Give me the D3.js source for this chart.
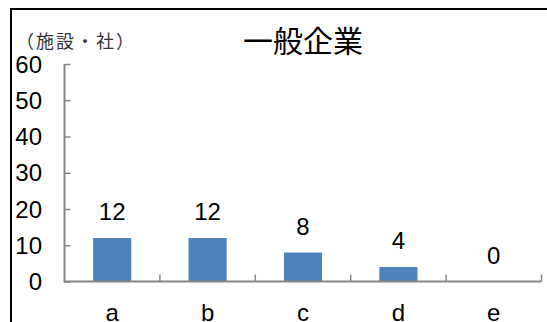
<!DOCTYPE html>
<html><head><meta charset="utf-8">
<script src="https://cdn.jsdelivr.net/npm/d3@7"></script>
<style>body{margin:0;background:#fff;}svg{display:block;}</style>
</head><body>
<svg id="c" width="547" height="322"></svg>
<script>
const categories = ["a","b","c","d","e"];
const values = [12,12,8,4,0];
const yTicks = [0,10,20,30,40,50,60];
const title = "一般企業";
const unitLabel = "（施設・社）";

(function(){
const svg = d3.select("#c");
const W = 547, H = 322;
const pLeft = 64.5, pRight = 541.5, pTop = 64, pBottom = 281.5;
const x = d3.scaleBand().domain(categories).range([pLeft, pRight]).paddingInner(0.6).paddingOuter(0.3);
const y = d3.scaleLinear().domain([0, 60]).range([pBottom, pTop]);
const font = "'Liberation Sans', Arial, sans-serif";
const cjk = "'Noto Sans CJK JP', sans-serif";

// border
svg.append("path").attr("d", `M11,${H} L11,9 L${W},9`).attr("fill","none").attr("stroke","#000").attr("stroke-width",2);

// title
svg.append("text").attr("x", 303).attr("y", 52).attr("text-anchor","middle")
  .attr("font-family", cjk).attr("font-size", 30).attr("fill","#000").text(title);
svg.append("text").attr("x", 16).attr("y", 48)
  .attr("font-family", cjk).attr("font-size", 18).attr("fill","#333")
  .attr("textLength", 118).attr("lengthAdjust","spacing").text(unitLabel);

// bars
svg.selectAll("rect.bar").data(values).join("rect").attr("class","bar")
  .attr("x",(d,i)=>x(categories[i])).attr("width",x.bandwidth())
  .attr("y",d=>y(d)).attr("height",d=>y(0)-y(d)).attr("fill","#4F81BD");

// y axis
const yAxis = d3.axisRight(y).tickValues(yTicks).tickSize(6).tickFormat("");
const gy = svg.append("g").attr("transform",`translate(${pLeft},0)`).call(yAxis);
gy.select(".domain").remove();
gy.selectAll(".tick line").attr("stroke","#868686").attr("stroke-width",1.5);
svg.append("line").attr("x1",pLeft).attr("x2",pLeft).attr("y1",pTop).attr("y2",pBottom+1)
  .attr("stroke","#868686").attr("stroke-width",2);
svg.selectAll("text.yl").data(yTicks).join("text").attr("class","yl")
  .attr("x",42).attr("y",d=>y(d)+8.5).attr("text-anchor","end")
  .attr("font-family",font).attr("font-size",24).attr("fill","#000").text(d=>d);

// x axis
const edges = categories.map(c => x(c) - x.step()*x.paddingInner()/2 + x.step());
svg.selectAll("line.xt").data(edges).join("line").attr("class","xt")
  .attr("x1",d=>d).attr("x2",d=>d).attr("y1",pBottom-7).attr("y2",pBottom)
  .attr("stroke","#868686").attr("stroke-width",1.5);
svg.append("line").attr("x1",pLeft).attr("x2",pRight).attr("y1",pBottom).attr("y2",pBottom)
  .attr("stroke","#868686").attr("stroke-width",2);
svg.selectAll("text.xl").data(categories).join("text").attr("class","xl")
  .attr("x",d=>x(d)+x.bandwidth()/2).attr("y",321).attr("text-anchor","middle")
  .attr("font-family",font).attr("font-size",24).attr("fill","#000").text(d=>d);

// value labels
svg.selectAll("text.vl").data(values).join("text").attr("class","vl")
  .attr("x",(d,i)=>x(categories[i])+x.bandwidth()/2).attr("y",d=>y(d)-18)
  .attr("text-anchor","middle").attr("font-family",font).attr("font-size",24).attr("fill","#000").text(d=>d);
})();
</script>
</body></html>
